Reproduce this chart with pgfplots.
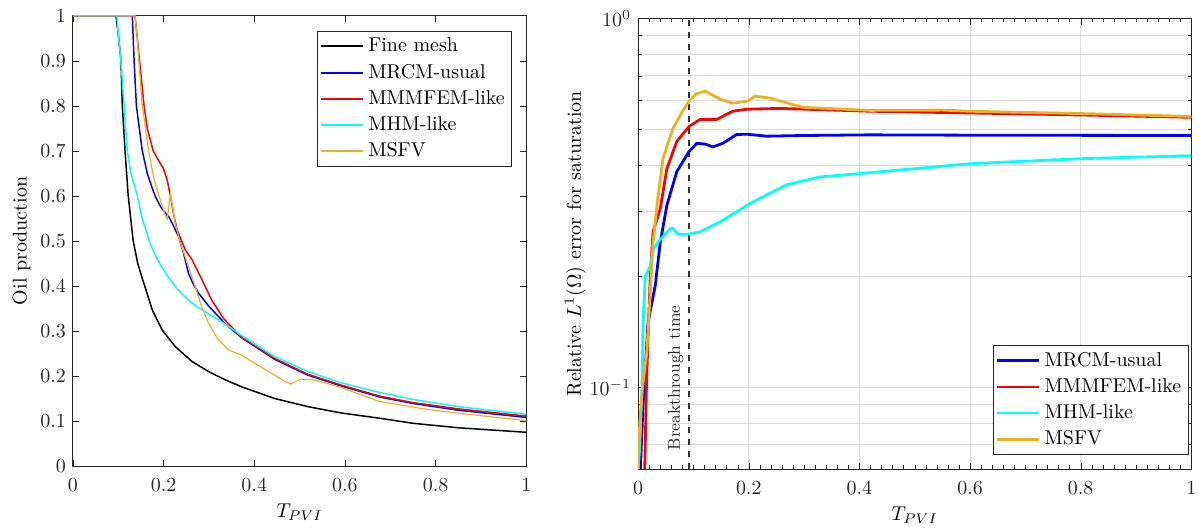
\documentclass[border=0pt]{standalone}
\usepackage{pgfplots}
\pgfplotsset{compat=1.18}
\definecolor{mblue}{rgb}{0,0,1}
\definecolor{mred}{rgb}{1,0,0}
\definecolor{mcyan}{rgb}{0,1,1}
\definecolor{morange}{rgb}{0.929,0.694,0.125}
\definecolor{axgray}{rgb}{0.15,0.15,0.15}
\begin{document}
\begin{tikzpicture}
\pgfplotsset{
  every axis/.append style={
    axis line style={axgray},
    tick style={axgray},
    tick align=inside,
    major tick length=3pt,
    minor tick length=1.8pt,
    ticklabel style={text=axgray},
    xticklabel style={yshift=-3pt},
    legend cell align=left,
    legend style={draw=axgray, line width=0.4pt, inner sep=1.5pt, row sep=0.6pt, font=\normalsize},
    xlabel style={yshift=1pt},
  }
}
% ---------------- left axis ----------------
\begin{axis}[
  scale only axis, width=227pt, height=225.5pt,
  xmin=0, xmax=1, ymin=0, ymax=1,
  xtick={0,0.2,0.4,0.6,0.8,1},
  ytick={0,0.1,0.2,0.3,0.4,0.5,0.6,0.7,0.8,0.9,1},
  xlabel={$T_{PVI}$}, ylabel={Oil production},
  ylabel shift=-2pt,
  legend image code/.code={\draw[#1, line width=1pt] (0pt,0pt) -- (21pt,0pt);},
  legend style={at={(0.969,0.967)}, anchor=north east},
]
\addplot[black, line width=0.75pt] coordinates {
(0,1) (0.095,1) (0.1,0.96) (0.106,0.9) (0.109,0.8) (0.115,0.7) (0.122,0.6)
(0.133,0.5) (0.143,0.45) (0.153,0.417) (0.175,0.347) (0.197,0.302) (0.226,0.265)
(0.263,0.232) (0.299,0.21) (0.335,0.192) (0.372,0.176) (0.445,0.15) (0.518,0.132)
(0.591,0.118) (0.678,0.106) (0.75,0.095) (0.85,0.085) (1,0.075)};
\addlegendentry{Fine mesh}
\addplot[mblue, line width=0.75pt] coordinates {
(0,1) (0.131,1) (0.133,0.95) (0.135,0.9) (0.14,0.8) (0.153,0.7) (0.164,0.65)
(0.174,0.62) (0.182,0.598) (0.194,0.575) (0.204,0.562) (0.212,0.553) (0.219,0.539)
(0.233,0.51) (0.244,0.473) (0.255,0.428) (0.265,0.405) (0.277,0.384) (0.299,0.356)
(0.335,0.317) (0.372,0.285) (0.445,0.237) (0.518,0.202) (0.591,0.178) (0.678,0.153)
(0.75,0.139) (0.85,0.124) (1,0.108)};
\addlegendentry{MRCM-usual}
\addplot[mred, line width=0.75pt] coordinates {
(0,1) (0.137,1) (0.142,0.95) (0.147,0.9) (0.157,0.8) (0.164,0.75) (0.177,0.7)
(0.19,0.677) (0.2,0.66) (0.208,0.635) (0.215,0.6) (0.223,0.555) (0.23,0.524)
(0.248,0.48) (0.263,0.458) (0.285,0.413) (0.306,0.369) (0.332,0.328) (0.372,0.286)
(0.445,0.239) (0.518,0.204) (0.591,0.18) (0.678,0.155) (0.75,0.141) (0.85,0.127) (1,0.111)};
\addlegendentry{MMMFEM-like}
\addplot[mcyan, line width=0.75pt] coordinates {
(0,1) (0.097,1) (0.1,0.96) (0.106,0.9) (0.113,0.8) (0.12,0.7) (0.128,0.65)
(0.142,0.6) (0.153,0.55) (0.171,0.492) (0.19,0.452) (0.21,0.42) (0.23,0.394)
(0.25,0.373) (0.27,0.356) (0.299,0.338) (0.335,0.316) (0.372,0.29) (0.445,0.243) (0.518,0.21)
(0.591,0.185) (0.678,0.163) (0.75,0.148) (0.85,0.132) (1,0.115)};
\addlegendentry{MHM-like}
\addplot[morange, line width=0.6pt] coordinates {
(0,1) (0.137,1) (0.142,0.95) (0.147,0.88) (0.153,0.8) (0.167,0.7) (0.179,0.636)
(0.19,0.6) (0.198,0.575) (0.204,0.556) (0.208,0.548) (0.211,0.57) (0.215,0.607)
(0.219,0.58) (0.226,0.539) (0.237,0.495) (0.255,0.443) (0.27,0.398) (0.284,0.354)
(0.299,0.317) (0.321,0.28) (0.343,0.258) (0.372,0.246) (0.408,0.224) (0.445,0.202)
(0.467,0.188) (0.481,0.182) (0.492,0.188) (0.503,0.193) (0.532,0.191) (0.591,0.175)
(0.627,0.161) (0.678,0.143) (0.78,0.126) (0.853,0.117) (1,0.101)};
\addlegendentry{MSFV}
\end{axis}
% ---------------- right axis ----------------
\begin{axis}[
  at={(283pt,-1.5pt)},
  scale only axis, width=277pt, height=225.5pt,
  xmin=0, xmax=1, ymin=0.06, ymax=1, ymode=log,
  xtick={0,0.2,0.4,0.6,0.8,1},
  minor x tick num=9,
  xmajorgrids=true, ymajorgrids=true, yminorgrids=true,
  major grid style={black!14, line width=0.4pt},
  minor grid style={black!14, line width=0.4pt},
  xlabel={$T_{PVI}$}, ylabel={Relative $L^1(\Omega)$ error for saturation},
  ylabel shift=-5pt,
  legend image code/.code={\draw[#1] (0pt,0pt) -- (21pt,0pt);},
  legend style={at={(0.995,0.031)}, anchor=south east},
]
\addplot[black!80, dashed, line width=0.6pt, forget plot] coordinates {(0.092,0.06) (0.092,1)};
\node[rotate=90, font=\fontsize{8.5}{10}\selectfont, text=axgray] at (axis cs:0.068,0.106) {Breakthrough time};
\addplot[mblue, line width=1.4pt] coordinates {
(0.004,0.06) (0.009,0.09) (0.018,0.15) (0.031,0.189) (0.04,0.247) (0.052,0.312)
(0.07,0.385) (0.092,0.436) (0.106,0.459) (0.121,0.457) (0.135,0.449) (0.153,0.459)
(0.178,0.485) (0.196,0.486) (0.232,0.48) (0.297,0.482) (0.418,0.484) (0.6,0.483) (1,0.482)};
\addlegendentry{MRCM-usual}
\addplot[mred, line width=1.4pt] coordinates {
(0.012,0.06) (0.015,0.1) (0.018,0.138) (0.022,0.2) (0.027,0.264) (0.04,0.305)
(0.052,0.392) (0.07,0.465) (0.092,0.51) (0.112,0.533) (0.142,0.533) (0.171,0.561)
(0.196,0.568) (0.256,0.571) (0.418,0.561) (0.6,0.555) (0.8,0.548) (1,0.54)};
\addlegendentry{MMMFEM-like}
\addplot[mcyan, line width=1.4pt] coordinates {
(0,0.06) (0.003,0.069) (0.007,0.1) (0.009,0.15) (0.013,0.2) (0.022,0.213)
(0.027,0.237) (0.04,0.252) (0.058,0.269) (0.063,0.27) (0.072,0.26) (0.088,0.26)
(0.112,0.264) (0.148,0.281) (0.207,0.318) (0.268,0.354) (0.328,0.372) (0.418,0.382)
(0.598,0.404) (0.8,0.417) (1,0.425)};
\addlegendentry{MHM-like}
\addplot[morange, line width=1.4pt] coordinates {
(0,0.06) (0.003,0.08) (0.008,0.1) (0.0156,0.124) (0.02,0.16) (0.027,0.247)
(0.035,0.32) (0.045,0.417) (0.063,0.504) (0.08,0.56) (0.092,0.597) (0.105,0.625)
(0.121,0.636) (0.135,0.62) (0.148,0.605) (0.171,0.59) (0.198,0.597) (0.211,0.616)
(0.238,0.609) (0.297,0.575) (0.418,0.564) (0.55,0.565) (0.598,0.561) (0.82,0.552) (1,0.543)};
\addlegendentry{MSFV}
\end{axis}
\coordinate (bbsw) at (current bounding box.south west);
\coordinate (bbne) at (current bounding box.north east);
\pgfresetboundingbox
\path ([xshift=-3pt,yshift=-1pt]bbsw) ([xshift=-2pt,yshift=1.3pt]bbne);
\end{tikzpicture}
\end{document}
